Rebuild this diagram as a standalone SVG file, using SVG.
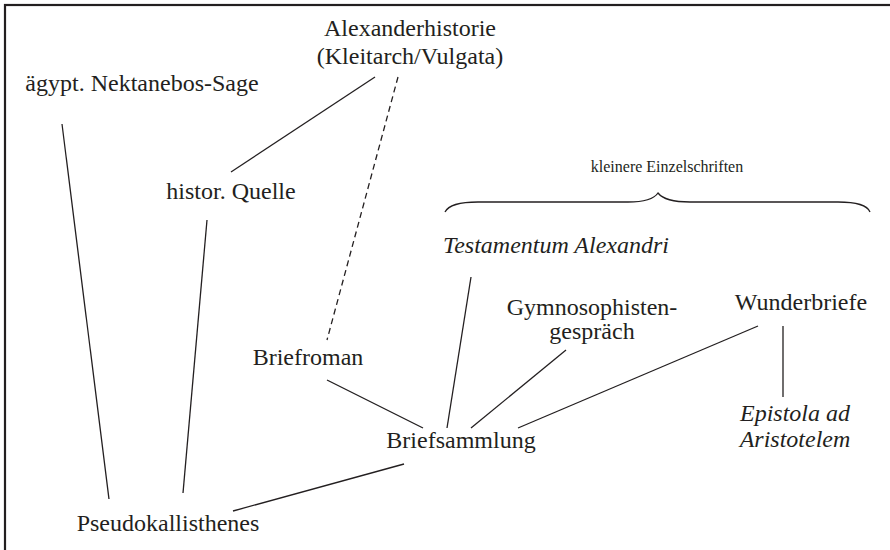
<svg xmlns="http://www.w3.org/2000/svg" width="890" height="550" viewBox="0 0 890 550">
<style>
text{font-family:"Liberation Serif","Times New Roman",serif;font-size:24px;fill:#231f20;text-anchor:middle}
.it{font-style:italic}
.sm{font-size:16px}
.c line,.c path{stroke:#231f20;stroke-width:1.3;fill:none}
.d{stroke-dasharray:6 4}
</style>
<rect x="0" y="0" width="890" height="550" fill="#fff"/>
<rect x="5" y="5" width="900" height="560" fill="none" stroke="#231f20" stroke-width="2.2"/>
<g id="alexanderhistorie"><text x="410" y="36">Alexanderhistorie</text><text x="410" y="64">(Kleitarch/Vulgata)</text></g>
<g id="nektanebos"><text x="142" y="91">ägypt. Nektanebos-Sage</text></g>
<g id="quelle"><text x="231" y="199">histor. Quelle</text></g>
<g id="einzelschriften"><text class="sm" x="667" y="172">kleinere Einzelschriften</text></g>
<g id="testamentum"><text class="it" x="556" y="253">Testamentum Alexandri</text></g>
<g id="gymnosophisten"><text x="592" y="315">Gymnosophisten-</text><text x="592" y="339">gespräch</text></g>
<g id="wunderbriefe"><text x="801" y="310">Wunderbriefe</text></g>
<g id="briefroman"><text x="308" y="365">Briefroman</text></g>
<g id="epistola"><text class="it" x="795" y="421">Epistola ad</text><text class="it" x="795" y="447">Aristotelem</text></g>
<g id="briefsammlung"><text x="461" y="448">Briefsammlung</text></g>
<g id="pseudokallisthenes"><text x="168" y="531">Pseudokallisthenes</text></g>
<g id="connectors" class="c">
<path d="M445,212 Q450,202 478,202 L628,202 Q652,202 658,193 Q665,202 690,202 L838,202 Q866,202 870,212"/>
<line x1="375" y1="77" x2="231" y2="172"/>
<line class="d" x1="398" y1="77" x2="327" y2="340"/>
<line x1="62" y1="124" x2="109" y2="499"/>
<line x1="207" y1="220" x2="183" y2="493"/>
<line x1="327" y1="380" x2="423" y2="428"/>
<line x1="471" y1="277" x2="447" y2="428"/>
<line x1="566" y1="350" x2="471" y2="428"/>
<line x1="758" y1="326" x2="518" y2="428"/>
<line x1="783" y1="326" x2="783" y2="397"/>
<line x1="404" y1="464" x2="233" y2="511"/>
</g>
</svg>
